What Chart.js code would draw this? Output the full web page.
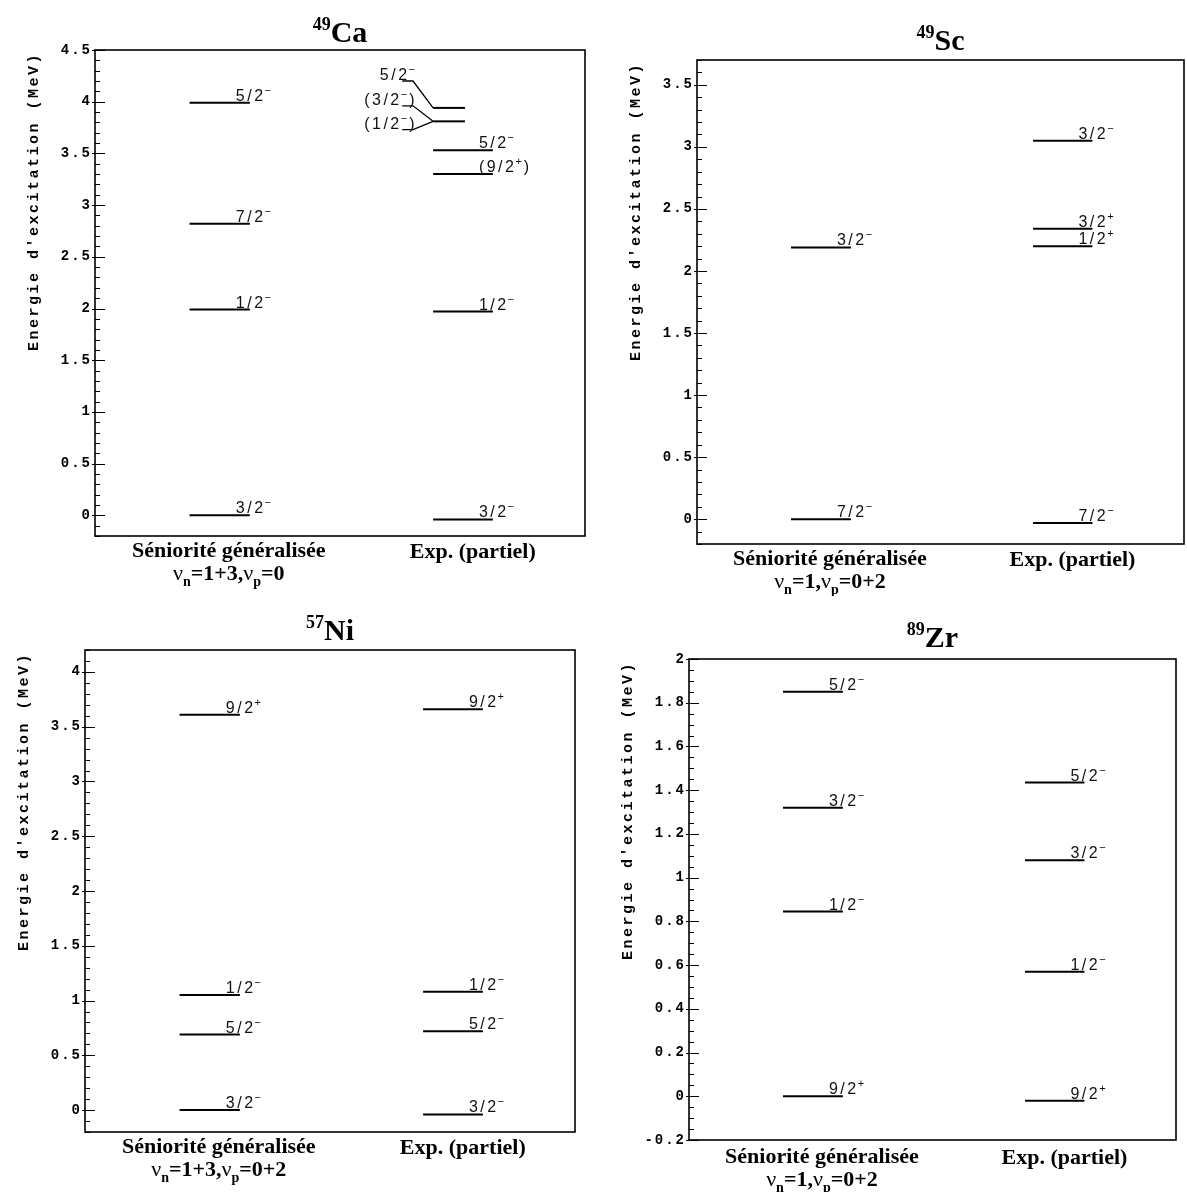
<!DOCTYPE html>
<html>
<head>
<meta charset="utf-8">
<script src="https://cdn.jsdelivr.net/npm/chart.js@4.4.1/dist/chart.umd.min.js"></script>
<style>
html,body{margin:0;padding:0;background:#fff;}
#wrap{position:relative;width:1187px;height:1192px;overflow:hidden;}
canvas{position:absolute;display:block;}
</style>
</head>
<body>
<div id="wrap">
<canvas id="c1" width="600" height="596" style="left:0;top:0"></canvas>
<canvas id="c2" width="587" height="596" style="left:600px;top:0"></canvas>
<canvas id="c3" width="600" height="596" style="left:0;top:596px"></canvas>
<canvas id="c4" width="587" height="596" style="left:600px;top:596px"></canvas>
</div>
<script>
// ---------------- DATA ----------------
const Y_TITLE = "Energie d'excitation (MeV)";
const THEORY_NAME = "Séniorité généralisée";
const EXP_NAME = "Exp. (partiel)";

// 49Ca
const caTitle = ['49', 'Ca'];
const caTheoryLevels = [0, 1.99, 2.82, 3.99];
const caTheorySpins  = ['3/2-', '1/2-', '7/2-', '5/2-'];
const caExpLevels    = [-0.04, 1.97, 3.30, 3.53];
const caExpSpins     = ['3/2-', '1/2-', '(9/2+)', '5/2-'];
const caExpSideLevels = [3.81, 3.94];
const caExpSideSpins  = ['(1/2-)', '(3/2-)', '5/2-'];
const caExpSideLabelE = [3.73, 3.96, 4.20];
const caExpSideTarget = [0, 0, 1];
const caNu = ['1+3', '0'];
const caTicks = ['0','0.5','1','1.5','2','2.5','3','3.5','4','4.5'];
const caRange = [-0.2, 4.5, 0.1];

// 49Sc
const scTitle = ['49', 'Sc'];
const scTheoryLevels = [0, 2.19];
const scTheorySpins  = ['7/2-', '3/2-'];
const scExpLevels    = [-0.03, 2.20, 2.34, 3.05];
const scExpSpins     = ['7/2-', '1/2+', '3/2+', '3/2-'];
const scNu = ['1', '0+2'];
const scTicks = ['0','0.5','1','1.5','2','2.5','3','3.5'];
const scRange = [-0.2, 3.7, 0.1];

// 57Ni
const niTitle = ['57', 'Ni'];
const niTheoryLevels = [0, 0.69, 1.05, 3.61];
const niTheorySpins  = ['3/2-', '5/2-', '1/2-', '9/2+'];
const niExpLevels    = [-0.04, 0.72, 1.08, 3.66];
const niExpSpins     = ['3/2-', '5/2-', '1/2-', '9/2+'];
const niNu = ['1+3', '0+2'];
const niTicks = ['0','0.5','1','1.5','2','2.5','3','3.5','4'];
const niRange = [-0.2, 4.2, 0.1];

// 89Zr
const zrTitle = ['89', 'Zr'];
const zrTheoryLevels = [0, 0.845, 1.32, 1.85];
const zrTheorySpins  = ['9/2+', '1/2-', '3/2-', '5/2-'];
const zrExpLevels    = [-0.02, 0.57, 1.08, 1.435];
const zrExpSpins     = ['9/2+', '1/2-', '3/2-', '5/2-'];
const zrNu = ['1', '0+2'];
const zrTicks = ['-0.2','0','0.2','0.4','0.6','0.8','1','1.2','1.4','1.6','1.8','2'];
const zrRange = [-0.2, 2, 0.05];

// ---------------- LAYOUT ----------------
const TH_X = [0.193, 0.316];
const EX_X = [0.69, 0.812];
const EX_SHORT_X = [0.69, 0.755];
const CONN_X = [0.627, 0.649];
const CAT_X = [0.273, 0.771];

const panels = [
  {canvas:'c1', box:{left:95, top:50, right:585, bottom:536}, titleY:42, catY:557,
   title:caTitle, range:caRange, ticks:caTicks, nu:caNu,
   th:[caTheoryLevels, caTheorySpins], ex:[caExpLevels, caExpSpins],
   side:{levels:caExpSideLevels, spins:caExpSideSpins, labelE:caExpSideLabelE, target:caExpSideTarget}},
  {canvas:'c2', box:{left:97, top:60, right:584, bottom:544}, titleY:50, catY:565,
   title:scTitle, range:scRange, ticks:scTicks, nu:scNu,
   th:[scTheoryLevels, scTheorySpins], ex:[scExpLevels, scExpSpins], side:null},
  {canvas:'c3', box:{left:85, top:54, right:575, bottom:536}, titleY:44, catY:557,
   title:niTitle, range:niRange, ticks:niTicks, nu:niNu,
   th:[niTheoryLevels, niTheorySpins], ex:[niExpLevels, niExpSpins], side:null},
  {canvas:'c4', box:{left:89, top:63, right:576, bottom:544}, titleY:51, catY:567,
   title:zrTitle, range:zrRange, ticks:zrTicks, nu:zrNu,
   th:[zrTheoryLevels, zrTheorySpins], ex:[zrExpLevels, zrExpSpins], side:null},
];

// ---------------- DRAW HELPERS ----------------
function drawSpin(ctx, spin, x, y, alignRight) {
  const k = Math.max(spin.lastIndexOf('+'), spin.lastIndexOf('-'));
  const head = spin.slice(0, k);
  const sign = spin[k] === '-' ? '\u2212' : '+';
  const tail = spin.slice(k + 1);
  const mainFont = '16px "Liberation Sans"', supFont = '11px "Liberation Sans"';
  const sp = '2.5px';
  ctx.font = mainFont; ctx.letterSpacing = sp;
  const wh = ctx.measureText(head).width;
  const wt = tail ? ctx.measureText(tail).width : 0;
  ctx.font = supFont; ctx.letterSpacing = '0px';
  const ws = ctx.measureText(sign).width + 1;
  const total = wh + ws + wt;
  const x0 = alignRight ? x - total : x;
  ctx.fillStyle = '#111';
  ctx.textAlign = 'left'; ctx.textBaseline = 'alphabetic';
  ctx.font = mainFont; ctx.letterSpacing = sp;
  ctx.fillText(head, x0, y);
  ctx.font = supFont; ctx.letterSpacing = '0px';
  ctx.fillText(sign, x0 + wh - 1, y - 7);
  if (tail) { ctx.font = mainFont; ctx.letterSpacing = sp; ctx.fillText(tail, x0 + wh + ws, y); }
  ctx.letterSpacing = '0px';
}

function drawSegments(ctx, segs, cx, y) {
  let total = 0;
  segs.forEach(s => { ctx.font = s.font; total += ctx.measureText(s.t).width; });
  let xx = cx - total / 2;
  ctx.textAlign = 'left';
  segs.forEach(s => { ctx.font = s.font; ctx.fillText(s.t, xx, y + s.dy); xx += ctx.measureText(s.t).width; });
}

function makeDecor(P) {
  return {
    id: 'decor_' + P.canvas,
    beforeDraw(chart) { chart.ctx.letterSpacing = '2px'; },
    afterDraw(chart) {
      const ctx = chart.ctx, a = chart.chartArea, x = chart.scales.x, y = chart.scales.y;
      ctx.save();
      ctx.letterSpacing = '0px';
      ctx.strokeStyle = '#000'; ctx.fillStyle = '#000';
      // frame
      ctx.lineWidth = 1.6;
      ctx.strokeRect(a.left, a.top, a.right - a.left, a.bottom - a.top);
      // inward ticks
      const [mn, mx, minor] = P.range;
      const majors = P.ticks.map(Number);
      ctx.lineWidth = 1.2;
      ctx.beginPath();
      for (let n = Math.ceil(mn / minor - 1e-6); n <= Math.floor(mx / minor + 1e-6); n++) {
        const v = n * minor;
        const isMajor = majors.some(m => Math.abs(m - v) < 1e-6);
        const py = Math.round(y.getPixelForValue(v)) + 0.5;
        ctx.moveTo(a.left - (isMajor ? 3 : 0), py);
        ctx.lineTo(a.left + (isMajor ? 10 : 5), py);
      }
      ctx.stroke();
      // y title
      ctx.save();
      ctx.translate(a.left - 61, a.top + 2);
      ctx.rotate(-Math.PI / 2);
      ctx.font = 'bold 15px "Liberation Mono"';
      ctx.letterSpacing = '2.5px';
      ctx.textAlign = 'right'; ctx.textBaseline = 'middle';
      ctx.fillText(Y_TITLE, 0, 0);
      ctx.restore();
      ctx.letterSpacing = '0px';
      // chart title
      const cx = (a.left + a.right) / 2;
      ctx.textBaseline = 'alphabetic';
      drawSegments(ctx, [
        {t: P.title[0], font: 'bold 18px "Liberation Serif"', dy: -12},
        {t: P.title[1], font: 'bold 30px "Liberation Serif"', dy: 0}
      ], cx, P.titleY);
      // category labels
      ctx.textAlign = 'center';
      ctx.font = 'bold 22px "Liberation Serif"';
      ctx.fillText(THEORY_NAME, x.getPixelForValue(CAT_X[0]), P.catY);
      ctx.fillText(EXP_NAME, x.getPixelForValue(CAT_X[1]), P.catY + 1);
      const mf = 'bold 22px "Liberation Serif"', sf = 'bold 14px "Liberation Serif"';
      drawSegments(ctx, [
        {t: 'ν', font: '22px "Liberation Serif"', dy: 0},
        {t: 'n', font: sf, dy: 6},
        {t: '=' + P.nu[0] + ',', font: mf, dy: 0},
        {t: 'ν', font: '22px "Liberation Serif"', dy: 0},
        {t: 'p', font: sf, dy: 6},
        {t: '=' + P.nu[1], font: mf, dy: 0}
      ], x.getPixelForValue(CAT_X[0]), P.catY + 23);
      // spin labels
      P.th[0].forEach((e, i) => drawSpin(ctx, P.th[1][i], x.getPixelForValue(TH_X[1]) - 14, y.getPixelForValue(e) - 2, false));
      P.ex[0].forEach((e, i) => drawSpin(ctx, P.ex[1][i], x.getPixelForValue(EX_X[1]) - 14, y.getPixelForValue(e) - 2, false));
      if (P.side) {
        P.side.spins.forEach((s, j) => drawSpin(ctx, s, x.getPixelForValue(CONN_X[1]) + 4, y.getPixelForValue(P.side.labelE[j]) - 1, true));
      }
      ctx.restore();
    }
  };
}

function levelDataset(x0, x1, e, w) {
  return {data: [{x: x0, y: e}, {x: x1, y: e}], showLine: true, borderColor: '#000',
          borderWidth: w, pointRadius: 0, pointHoverRadius: 0, fill: false, tension: 0};
}

panels.forEach(P => {
  const datasets = [];
  P.th[0].forEach(e => datasets.push(levelDataset(TH_X[0], TH_X[1], e, 2)));
  P.ex[0].forEach(e => datasets.push(levelDataset(EX_X[0], EX_X[1], e, 2)));
  if (P.side) {
    P.side.levels.forEach(e => datasets.push(levelDataset(EX_SHORT_X[0], EX_SHORT_X[1], e, 2)));
    P.side.labelE.forEach((le, j) => {
      const target = P.side.levels[P.side.target[j]];
      datasets.push({data: [{x: CONN_X[0], y: le}, {x: CONN_X[1], y: le}, {x: EX_SHORT_X[0], y: target}],
        showLine: true, borderColor: '#000', borderWidth: 1.3, pointRadius: 0, fill: false, tension: 0});
    });
  }
  const cv = document.getElementById(P.canvas);
  const W = cv.width, H = cv.height;
  const tickVals = P.ticks.map(Number);
  new Chart(cv, {
    type: 'scatter',
    data: {datasets},
    options: {
      responsive: false,
      animation: false,
      events: [],
      layout: {padding: {left: 0, top: P.box.top, right: W - P.box.right, bottom: H - P.box.bottom}},
      plugins: {legend: {display: false}, tooltip: {enabled: false}, title: {display: false}},
      scales: {
        x: {type: 'linear', min: 0, max: 1, display: false},
        y: {
          type: 'linear', position: 'left', min: P.range[0], max: P.range[1],
          afterFit(s) { s.width = P.box.left; },
          afterBuildTicks(s) { s.ticks = tickVals.map(v => ({value: v})); },
          grid: {display: false, drawTicks: false},
          border: {display: false},
          ticks: {
            autoSkip: false, padding: 3, color: '#000',
            font: {family: 'Liberation Mono', weight: 'bold', size: 14},
            callback: (v, i) => P.ticks[i]
          }
        }
      }
    },
    plugins: [makeDecor(P)]
  });
});
</script>
</body>
</html>
